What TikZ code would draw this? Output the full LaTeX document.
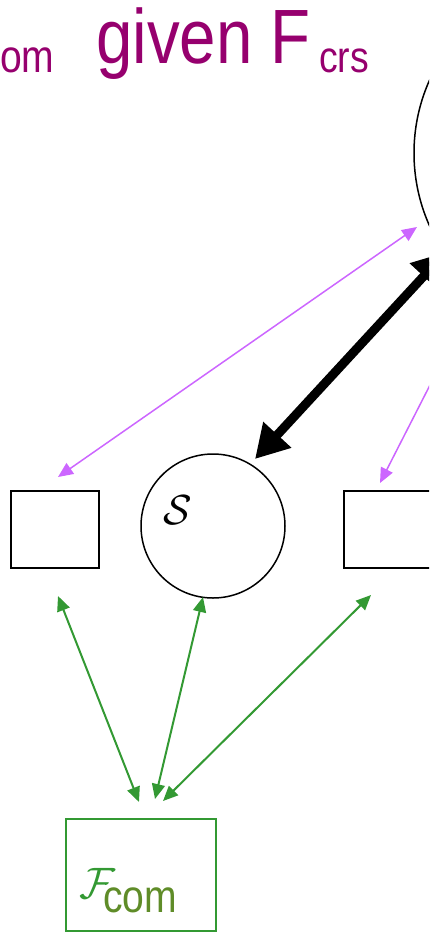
\RequirePackage{fix-cm}
\documentclass[tikz,border=0pt]{standalone}
\usepackage{fontspec}
\newfontfamily\headfont{Liberation Sans}[FakeStretch=0.85]
\usetikzlibrary{arrows.meta}
\definecolor{titlepurple}{RGB}{150,0,110}
\definecolor{lilac}{RGB}{204,102,255}
\definecolor{funcgreen}{RGB}{51,153,51}
\definecolor{comgreen}{RGB}{95,140,40}
\begin{document}
\begin{tikzpicture}[x=1pt,y=-1pt,
    party/.style={draw,circle,line width=1.5pt,inner sep=0pt},
    box/.style={draw,line width=1.5pt,minimum width=88pt,minimum height=77pt,inner sep=0pt},
    garrow/.style={{Triangle[length=15pt,width=13pt]}-{Triangle[length=15pt,width=13pt]},funcgreen,line width=2pt},
    parrow/.style={{Triangle[length=15pt,width=13pt]}-{Triangle[length=15pt,width=13pt]},lilac,line width=1.5pt},
    barrow/.style={{Triangle[length=33pt,width=36pt]}-{Triangle[length=33pt,width=36pt]},black,line width=9pt},
    ]
    \clip(0,0)rectangle(429,932);
    % heading
    \node[anchor=base west,inner sep=0pt,titlepurple,font=\headfont\fontsize{46}{50}\selectfont](hcom)at(0,72){om};
    \node[anchor=base west,inner sep=0pt,titlepurple,font=\headfont\fontsize{77}{80}\selectfont](hgiven)at(96,63){given F};
    \node[anchor=base west,inner sep=0pt,titlepurple,font=\headfont\fontsize{44}{48}\selectfont](hcrs)at(319,72){crs};
    % parties and boxes
    \node[party,minimum size=356pt](crs)at(592,153){};
    \node[party,minimum size=144pt](sim)at(213,526){};
    \node[anchor=base west,inner sep=0pt,font=\fontsize{42}{46}\selectfont](simlabel)at(163,524){$\mathcal{S}$};
    \node[box](lbox)at(55,529.5){};
    \node[box](rbox)at(388,529.5){};
    \node[box,draw=funcgreen,line width=2pt,minimum width=150pt,minimum height=112pt](fcom)at(141,875){};
    \node[anchor=base west,inner sep=0pt,funcgreen,font=\fontsize{44}{48}\selectfont](fcomF)at(79,898){$\mathcal{F}$};
    \node[anchor=base west,inner sep=0pt,comgreen,font=\headfont\fontsize{46}{50}\selectfont](fcomsub)at(103,912){com};
    % end points of the links
    \coordinate(g1a)at(139,802);\coordinate(g1b)at(58,596);
    \coordinate(g2a)at(155,799);\coordinate(g2b)at(203,597);
    \coordinate(g3a)at(163,801);\coordinate(g3b)at(371,595);
    \coordinate(p1a)at(58,477);\coordinate(p1b)at(417,227);
    \coordinate(p2a)at(380,483);\coordinate(p2b)at(477,293);
    \coordinate(ba)at(255,459);\coordinate(bb)at(446,252);
    \draw[garrow](g1a)--(g1b);
    \draw[garrow](g2a)--(g2b);
    \draw[garrow](g3a)--(g3b);
    \draw[parrow](p1a)--(p1b);
    \draw[parrow](p2a)--(p2b);
    \draw[barrow](ba)--(bb);
\end{tikzpicture}
\end{document}
